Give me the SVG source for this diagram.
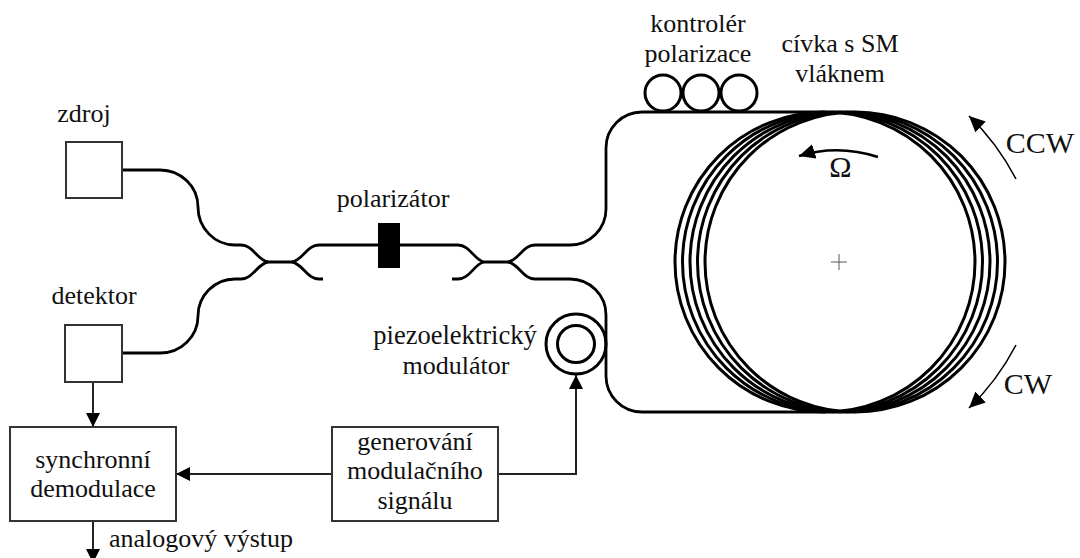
<svg xmlns="http://www.w3.org/2000/svg" width="1080" height="558" viewBox="0 0 1080 558">
<style>
text{font-family:"Liberation Serif","Times New Roman",serif;font-size:26px;fill:#111;text-anchor:middle}
.f{fill:none;stroke:#000;stroke-width:2.8}
.c{fill:none;stroke:#000;stroke-width:3}
.b{fill:#fff;stroke:#333;stroke-width:2}
.s{fill:none;stroke:#222;stroke-width:2}
.t{fill:none;stroke:#000;stroke-width:1.6}
</style>
<defs>
<marker id="a" markerUnits="userSpaceOnUse" markerWidth="17" markerHeight="15" refX="16" refY="7.5" orient="auto"><path d="M0 0L16 7.5L0 15Z" fill="#000"/></marker>
<marker id="r" markerUnits="userSpaceOnUse" markerWidth="15" markerHeight="14" refX="14" refY="7" orient="auto"><path d="M0 0L14 7L0 14Z" fill="#000"/></marker>
</defs>
<g id="connectors">
<path class="f" d="M122 170H160A38 37 0 0 1 198 207A37 38 0 0 0 235 245H241C253 245 257 260 268 262H292C303 260 307 245 319 245H458C470 245 474 260 484 262H508C519 260 523 245 535 245H570A36 36 0 0 0 606 209V148A36 36 0 0 1 642 112H825"/>
<path class="f" d="M122 353H160A38 37 0 0 0 198 316A37 37 0 0 1 235 279H241C253 279 257 264 268 262"/>
<path class="f" d="M292 262C303 264 307 279 319 279H323"/>
<path class="f" d="M452 279H458C470 279 474 264 484 262"/>
<path class="f" d="M508 262C519 264 523 279 535 279H570A36 36 0 0 1 606 315V376A36 36 0 0 0 642 412H825"/>
<path class="s" d="M93 382V427" marker-end="url(#r)"/>
<path class="s" d="M332 474H176" marker-end="url(#r)"/>
<path class="s" d="M498 474H576V375" marker-end="url(#r)"/>
<path class="s" d="M93 521V563" marker-end="url(#r)"/>
<path class="c" style="stroke-width:2.5" d="M878 157C853 149 825 148 799 156" marker-end="url(#a)"/>
<path class="t" d="M1016 179C1004 156 990 136 969 116" marker-end="url(#a)"/>
<path class="t" d="M1016 345C1004 368 990 388 969 408" marker-end="url(#a)"/>
</g>
<g id="zdroj"><rect class="b" x="66" y="142" width="56" height="56"/><text x="84" y="122">zdroj</text></g>
<g id="detektor"><rect class="b" x="65" y="325" width="57" height="57"/><text x="94" y="304">detektor</text></g>
<g id="polarizator"><rect x="378" y="223" width="22" height="45" fill="#000"/><text x="393" y="207">polarizátor</text></g>
<g id="kontroler"><circle class="c" cx="663" cy="93" r="18"/><circle class="c" cx="701" cy="93" r="18"/><circle class="c" cx="739" cy="93" r="18"/><text x="698" y="32">kontrolér</text><text x="698" y="62">polarizace</text></g>
<g id="civka">
<circle class="c" cx="825" cy="262" r="150"/><circle class="c" cx="832.5" cy="262" r="150"/><circle class="c" cx="840" cy="262" r="150"/><circle class="c" cx="847.5" cy="262" r="150"/><circle class="c" cx="855" cy="262" r="150"/>
<path d="M831 262H847M839 254V270" fill="none" stroke="#555" stroke-width="1"/>
<text x="840" y="52">cívka s SM</text><text x="840" y="82">vláknem</text>
</g>
<g id="modulator"><circle class="c" cx="576" cy="344" r="30"/><circle class="c" cx="576" cy="344" r="18.5"/><text x="455" y="344" style="font-size:26.5px">piezoelektrický</text><text x="456" y="374">modulátor</text></g>
<g id="demodulace"><rect class="b" x="10" y="427" width="166" height="94"/><text x="93" y="468">synchronní</text><text x="93" y="497">demodulace</text></g>
<g id="generovani"><rect class="b" x="332" y="427" width="166" height="94"/><text x="415" y="450">generování</text><text x="415" y="479">modulačního</text><text x="415" y="509">signálu</text></g>
<g id="labels">
<text x="840.5" y="177" style="font-size:30px">Ω</text>
<text x="1040" y="153" style="font-size:30px">CCW</text>
<text x="1028" y="394" style="font-size:30px">CW</text>
<text x="201" y="547">analogový výstup</text>
</g>
</svg>
